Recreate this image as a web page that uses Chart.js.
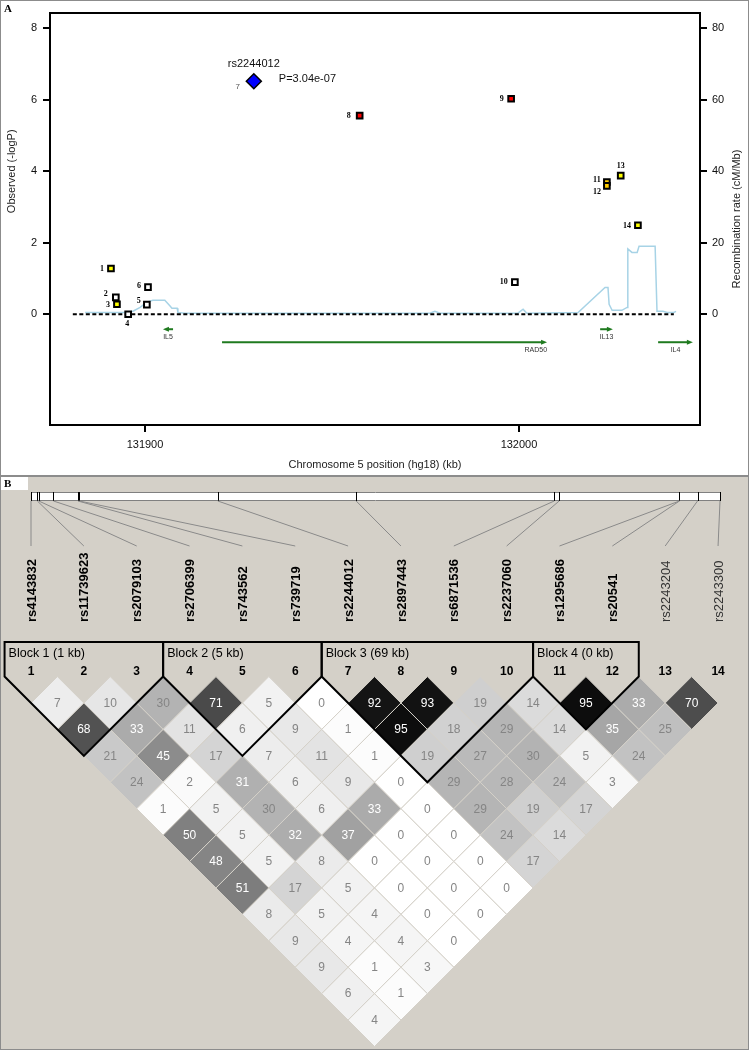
<!DOCTYPE html>
<html>
<head>
<meta charset="utf-8">
<script src="https://cdn.jsdelivr.net/npm/chart.js@4.4.1/dist/chart.umd.min.js"></script>
<style>
  body { margin: 0; background: #fff; }
  #wrap { position: relative; width: 749px; height: 1050px; overflow: hidden; }
  #panelA { position: absolute; left: 0; top: 0; background: #fff; }
  #panelB { position: absolute; left: 0; top: 477px; background: #d4d0c8; }
  #sep { position: absolute; left: 0; top: 475px; width: 749px; height: 2px; background: #8c8c8c; }
  #frame { position: absolute; left: 0; top: 0; width: 749px; height: 1050px; box-sizing: border-box;
           border: 1px solid #8c8c8c; pointer-events: none; }
</style>
</head>
<body>
<div id="wrap">
  <canvas id="panelA" width="749" height="475"></canvas>
  <canvas id="panelB" width="749" height="573"></canvas>
  <div id="sep"></div>
  <div id="frame"></div>
</div>
<script>
Chart.defaults.font.family = '"Liberation Sans", Arial, sans-serif';
Chart.defaults.color = '#111';

// ---- panel A : association + recombination
const snpIds = ['rs4143832', 'rs11739623', 'rs2079103', 'rs2706399', 'rs743562', 'rs739719', 'rs2244012',
                'rs2897443', 'rs6871536', 'rs2237060', 'rs1295686', 'rs20541', 'rs2243204', 'rs2243300'];
const snpPosKb = [131890.9, 131892.2, 131892.5, 131895.5, 131900.5, 131900.8, 131929.1,
                  131957.4, 131997.9, 131998.9, 132023.5, 132023.5, 132027.2, 132031.8];
const snpLogP = [1.28, 0.47, 0.28, 0.00, 0.27, 0.76, 6.52, 5.56, 6.03, 0.90, 3.70, 3.59, 3.88, 2.49];
const snpFill = ['#ffff00', '#ffffff', '#ffff00', '#ffffff', '#ffffff', '#ffffff', '#0000ff',
                 '#ff0000', '#ff0000', '#ffffff', '#ffcc00', '#ffcc00', '#ffff00', '#ffff00'];
const indexSnp = 6;
const indexP = 'P=3.04e-07';

const recombKb = [131884.0, 131895.5, 131896.9, 131898.7, 131900.5, 131902.1, 131905.3, 131906.7, 131907.2,
                  131908.6, 131908.8, 131910.7, 131941.4, 131976.2, 131977.5, 131978.9, 131999.7, 132001.1,
                  132002.1, 132015.8, 132023.0, 132023.8, 132024.1, 132024.9, 132027.5, 132028.9, 132029.1,
                  132030.2, 132031.6, 132032.1, 132036.4, 132036.9, 132038.5, 132039.6, 132041.4, 132042.0];
const recombRate = [0.5, 0.5, 0.9, 1.9, 3.4, 3.9, 3.9, 2.3, 1.7,
                    1.7, 0.5, 0.3, 0.3, 0.3, 0.8, 0.3, 0.3, 1.4,
                    0.3, 0.5, 7.5, 7.5, 2.8, 1.1, 1.1, 1.9, 18.3,
                    17.3, 17.3, 19, 19, 0.8, 0.8, 0.5, 0.5, 0.8];
const baselineKb = [131880.7, 132041.4];

const geneNames = ['IL5', 'RAD50', 'IL13', 'IL4'];
const geneStart = [131904.8, 131920.6, 132021.7, 132037.2];
const geneEnd = [131907.5, 132007.5, 132025.1, 132046.5];
const geneStrand = [-1, 1, 1, 1];

const xTicksKb = [131900, 132000];
const logPTicks = [0, 2, 4, 6, 8];
const rateTicks = [0, 20, 40, 60, 80];

// ---- panel B : LD (r2 x 100), one row per marker distance
const ldR2 = [
  [7, 10, 30, 71, 5, 0, 92, 93, 19, 14, 95, 33, 70],
  [68, 33, 11, 6, 9, 1, 95, 18, 29, 14, 35, 25],
  [21, 45, 17, 7, 11, 1, 19, 27, 30, 5, 24],
  [24, 2, 31, 6, 9, 0, 29, 28, 24, 3],
  [1, 5, 30, 6, 33, 0, 29, 19, 17],
  [50, 5, 32, 37, 0, 0, 24, 14],
  [48, 5, 8, 0, 0, 0, 17],
  [51, 17, 5, 0, 0, 0],
  [8, 5, 4, 0, 0],
  [9, 4, 4, 0],
  [9, 1, 3],
  [6, 1],
  [4]
];
const blockLabels = ['Block 1 (1 kb)', 'Block 2 (5 kb)', 'Block 3 (69 kb)', 'Block 4 (0 kb)'];
const blockFirst = [1, 4, 7, 11];
const blockLast = [3, 6, 10, 12];

// label offsets for the numbers beside each point (px)
const numOff = [[-9, 0], [-10, -3], [-9, 1], [-1, 10], [-8, -4], [-9, -1], [-16, 6],
                [-11, 0], [-9.5, 0], [-11, 0], [-10, -2], [-10, 6], [0, -10], [-11, 1]];

const panelAExtras = {
  id: 'panelAExtras',
  afterDraw(chart) {
    const { ctx, chartArea: a, scales: { x, y } } = chart;
    ctx.save();
    ctx.strokeStyle = '#000';
    ctx.lineWidth = 2;
    ctx.strokeRect(a.left, a.top, a.right - a.left, a.bottom - a.top);

    // panel letter
    ctx.fillStyle = '#000';
    ctx.font = 'bold 11px "Liberation Serif"';
    ctx.textAlign = 'left';
    ctx.textBaseline = 'middle';
    ctx.fillText('A', 4, 9);

    // axis titles
    ctx.font = '11px "Liberation Sans"';
    ctx.fillStyle = '#222';
    ctx.textAlign = 'center';
    ctx.fillText('Chromosome 5 position (hg18) (kb)', (a.left + a.right) / 2, 465);
    ctx.save();
    ctx.translate(12, y.getPixelForValue(4));
    ctx.rotate(-Math.PI / 2);
    ctx.fillText('Observed (-logP)', 0, 0);
    ctx.restore();
    ctx.save();
    ctx.translate(737, (a.top + a.bottom) / 2);
    ctx.rotate(-Math.PI / 2);
    ctx.fillText('Recombination rate (cM/Mb)', 0, 0);
    ctx.restore();

    // genes
    const y0 = y.getPixelForValue(0);
    geneNames.forEach((g, i) => {
      const gy = y0 + 15 + (i % 2) * 13;
      const xs = x.getPixelForValue(geneStart[i]);
      const xe = x.getPixelForValue(geneEnd[i]);
      const dir = geneStrand[i];
      const tip = dir > 0 ? xe : xs;
      ctx.strokeStyle = '#1f7a1f';
      ctx.fillStyle = '#1f7a1f';
      ctx.lineWidth = 2;
      ctx.beginPath();
      ctx.moveTo(dir > 0 ? xs : xs + 4, gy);
      ctx.lineTo(dir > 0 ? xe - 4 : xe, gy);
      ctx.stroke();
      ctx.beginPath();
      ctx.moveTo(tip, gy);
      ctx.lineTo(tip - dir * 6, gy - 2.5);
      ctx.lineTo(tip - dir * 6, gy + 2.5);
      ctx.closePath();
      ctx.fill();
      ctx.fillStyle = '#333';
      ctx.font = '7px "Liberation Sans"';
      if (geneEnd[i] - geneStart[i] > 40) {
        ctx.textAlign = 'right';
        ctx.fillText(g, xe, gy + 8);
      } else {
        ctx.textAlign = 'center';
        ctx.fillText(g, (xs + xe) / 2, gy + 8);
      }
    });

    // numbers next to points
    ctx.textAlign = 'center';
    snpPosKb.forEach((kb, i) => {
      const px = x.getPixelForValue(kb) + numOff[i][0];
      const py = y.getPixelForValue(snpLogP[i]) + numOff[i][1];
      if (i === indexSnp) {
        ctx.font = '8px "Liberation Sans"';
        ctx.fillStyle = '#555';
      } else {
        ctx.font = 'bold 8px "Liberation Serif"';
        ctx.fillStyle = '#000';
      }
      ctx.fillText(String(i + 1), px, py);
    });

    // index SNP annotation
    const ix = x.getPixelForValue(snpPosKb[indexSnp]);
    const iy = y.getPixelForValue(snpLogP[indexSnp]);
    ctx.font = '11px "Liberation Sans"';
    ctx.fillStyle = '#111';
    ctx.textAlign = 'center';
    ctx.fillText(snpIds[indexSnp], ix, iy - 17);
    ctx.textAlign = 'left';
    ctx.fillText(indexP, ix + 25, iy - 2);
    ctx.restore();
  }
};

const tickFont = { size: 11 };
new Chart(document.getElementById('panelA'), {
  type: 'scatter',
  data: {
    datasets: [
      {
        data: snpPosKb.map((kb, i) => ({ x: kb, y: snpLogP[i] })),
        pointStyle: snpPosKb.map((_, i) => i === indexSnp ? 'rectRot' : 'rect'),
        pointRadius: snpPosKb.map((_, i) => i === indexSnp ? 7.5 : 4),
        pointBackgroundColor: snpFill,
        pointBorderColor: '#000',
        pointBorderWidth: snpPosKb.map((_, i) => i === indexSnp ? 1.5 : 2),
        showLine: false,
        order: 0
      },
      {
        data: baselineKb.map(kb => ({ x: kb, y: 0 })),
        showLine: true,
        borderColor: '#000',
        borderWidth: 2,
        borderDash: [4, 2.5],
        pointRadius: 0,
        order: 1
      },
      {
        data: recombKb.map((kb, i) => ({ x: kb, y: recombRate[i] })),
        yAxisID: 'y2',
        showLine: true,
        borderColor: '#a7d3e6',
        borderWidth: 1.5,
        pointRadius: 0,
        order: 2
      }
    ]
  },
  options: {
    responsive: false,
    animation: false,
    events: [],
    layout: { autoPadding: false, padding: { top: 13, left: 0, right: 0, bottom: 0 } },
    plugins: { legend: { display: false }, tooltip: { enabled: false } },
    scales: {
      x: {
        type: 'linear', min: 131874.6, max: 132048.4,
        afterBuildTicks: s => { s.ticks = xTicksKb.map(v => ({ value: v })); },
        afterFit: s => { s.height = 50; },
        ticks: { callback: v => String(v), font: tickFont, padding: 6, maxRotation: 0, autoSkip: false },
        grid: { drawOnChartArea: false, tickLength: 7, color: '#000', lineWidth: 2 },
        border: { display: false }
      },
      y: {
        type: 'linear', position: 'left', min: -3.1, max: 8.43,
        afterBuildTicks: s => { s.ticks = logPTicks.map(v => ({ value: v })); },
        afterFit: s => { s.width = 50; },
        ticks: { font: tickFont, padding: 6 },
        grid: { drawOnChartArea: false, tickLength: 7, color: '#000', lineWidth: 2 },
        border: { display: false }
      },
      y2: {
        type: 'linear', position: 'right', min: -31, max: 84.3,
        afterBuildTicks: s => { s.ticks = rateTicks.map(v => ({ value: v })); },
        afterFit: s => { s.width = 49; },
        ticks: { font: tickFont, padding: 5 },
        grid: { drawOnChartArea: false, tickLength: 7, color: '#000', lineWidth: 2 },
        border: { display: false }
      }
    }
  },
  plugins: [panelAExtras]
});

// ---- panel B chart
const cells = [];
ldR2.forEach((row, di) => {
  row.forEach((v, k) => {
    const i = k + 1, j = i + di + 1;
    cells.push({ x: (i + j) / 2, y: di + 1, v: v });
  });
});
function shade(v) {
  const g = Math.round(255 * (1 - v / 100));
  return 'rgb(' + g + ',' + g + ',' + g + ')';
}
function inBlock(m) {
  return blockFirst.some((f, b) => m >= f && m <= blockLast[b]);
}

const cellPx = 52.85;     // marker spacing in px
const rowPx = cellPx / 2;
const xMin = 1 - 31 / cellPx;
const yMin = 1 - 226 / rowPx;
const posPx = (720 - 31) / (snpPosKb[13] - snpPosKb[0]);
const posMin = snpPosKb[0] - 31 / posPx;

const ldExtras = {
  id: 'ldExtras',
  afterDatasetsDraw(chart) {
    const { ctx, scales: { x, y, pos } } = chart;
    ctx.save();
    ctx.textAlign = 'center';
    ctx.textBaseline = 'middle';

    // values in cells
    ctx.font = '12px "Liberation Sans"';
    cells.forEach(c => {
      ctx.fillStyle = c.v > 30 ? '#fff' : '#858585';
      ctx.fillText(String(c.v), x.getPixelForValue(c.x), y.getPixelForValue(c.y) + 0.5);
    });

    // blocks
    const topY = 165;
    const cornerY = y.getPixelForValue(0);
    ctx.strokeStyle = '#000';
    ctx.lineWidth = 2;
    blockFirst.forEach((f, b) => {
      const l = blockLast[b];
      const xL = x.getPixelForValue(f - 0.5);
      const xR = x.getPixelForValue(l + 0.5);
      ctx.beginPath();
      ctx.moveTo(xL, topY);
      ctx.lineTo(xR, topY);
      ctx.lineTo(xR, cornerY);
      ctx.lineTo(x.getPixelForValue((f + l) / 2), y.getPixelForValue(l - f + 1));
      ctx.lineTo(xL, cornerY);
      ctx.closePath();
      ctx.stroke();
      ctx.fillStyle = '#000';
      ctx.font = '12.5px "Liberation Sans"';
      ctx.textAlign = 'left';
      ctx.fillText(blockLabels[b], xL + 4, 177);
    });

    // marker numbers
    ctx.textAlign = 'center';
    ctx.font = 'bold 12px "Liberation Sans"';
    ctx.fillStyle = '#000';
    snpIds.forEach((id, k) => ctx.fillText(String(k + 1), x.getPixelForValue(k + 1), 195));

    // panel letter
    ctx.fillStyle = '#fff';
    ctx.fillRect(0, 0, 28, 13);
    ctx.fillStyle = '#000';
    ctx.font = 'bold 11px "Liberation Serif"';
    ctx.textAlign = 'left';
    ctx.fillText('B', 4, 7);

    // physical map bar
    const p0 = pos.getPixelForValue(snpPosKb[0]);
    const p1 = pos.getPixelForValue(snpPosKb[snpPosKb.length - 1]);
    ctx.fillStyle = '#fff';
    ctx.fillRect(p0, 15, p1 - p0, 9);
    ctx.strokeStyle = '#808080';
    ctx.lineWidth = 1;
    ctx.beginPath();
    ctx.moveTo(p0, 15.5); ctx.lineTo(p1, 15.5);
    ctx.moveTo(p0, 23.5); ctx.lineTo(p1, 23.5);
    ctx.stroke();
    ctx.strokeStyle = '#000';
    ctx.beginPath();
    snpPosKb.forEach(kb => {
      const px = Math.round(pos.getPixelForValue(kb)) + 0.5;
      ctx.moveTo(px, 15); ctx.lineTo(px, 24);
    });
    ctx.stroke();

    // connectors
    ctx.strokeStyle = '#8a8a8a';
    ctx.beginPath();
    snpPosKb.forEach((kb, k) => {
      ctx.moveTo(pos.getPixelForValue(kb), 24);
      ctx.lineTo(x.getPixelForValue(k + 1), 69);
    });
    ctx.stroke();

    // marker names
    snpIds.forEach((id, k) => {
      ctx.save();
      ctx.translate(x.getPixelForValue(k + 1) + 1, 145);
      ctx.rotate(-Math.PI / 2);
      ctx.textAlign = 'left';
      ctx.textBaseline = 'middle';
      if (inBlock(k + 1)) {
        ctx.font = 'bold 13px "Liberation Sans"';
        ctx.fillStyle = '#000';
      } else {
        ctx.font = '13px "Liberation Sans"';
        ctx.fillStyle = '#333';
      }
      ctx.fillText(id, 0, 0);
      ctx.restore();
    });
    ctx.restore();
  }
};

new Chart(document.getElementById('panelB'), {
  type: 'scatter',
  data: {
    datasets: [{
      data: cells,
      pointStyle: 'rectRot',
      pointRadius: rowPx,
      pointBackgroundColor: cells.map(c => shade(c.v)),
      pointBorderColor: '#d4d0c8',
      pointBorderWidth: 1,
      clip: false
    }]
  },
  options: {
    responsive: false,
    animation: false,
    events: [],
    layout: { autoPadding: false, padding: 0 },
    plugins: { legend: { display: false }, tooltip: { enabled: false } },
    scales: {
      x: { type: 'linear', display: false, min: xMin, max: xMin + 749 / cellPx },
      y: { type: 'linear', display: false, reverse: true, min: yMin, max: yMin + 573 / rowPx },
      pos: { type: 'linear', axis: 'x', display: false, min: posMin, max: posMin + 749 / posPx }
    }
  },
  plugins: [ldExtras]
});
</script>
</body>
</html>
